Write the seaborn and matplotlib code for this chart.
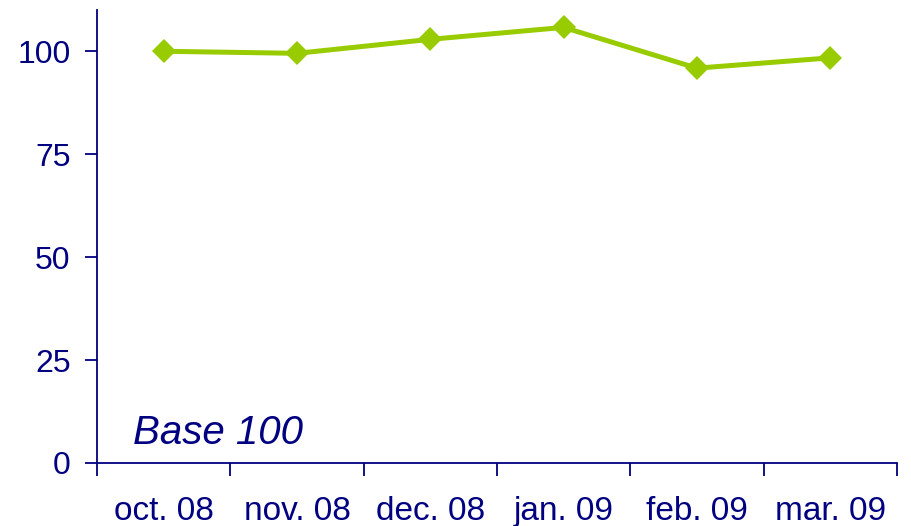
import seaborn as sns
import pandas as pd
import matplotlib.pyplot as plt
from matplotlib.ticker import FixedLocator

months = ['oct. 08', 'nov. 08', 'dec. 08', 'jan. 09', 'feb. 09', 'mar. 09']
values = [100.0, 99.5, 102.9, 105.8, 95.9, 98.4]
y_ticks = [0, 25, 50, 75, 100]

navy = '#000080'
green = '#99CC00'

sns.set_style('white')
plt.rcParams['font.family'] = ['Liberation Sans', 'DejaVu Sans']

df = pd.DataFrame({'month': months, 'value': values})

fig = plt.figure(figsize=(9.11, 5.26), dpi=100)
ax = fig.add_axes([0.1065, 0.1198, 0.878, 0.861])

sns.lineplot(data=df, x='month', y='value', ax=ax, color=green, linewidth=3.6,
             marker='D', markersize=12.5, markeredgewidth=0, sort=False)

ax.set_xlim(-0.5, len(months) - 0.5)
ax.set_ylim(0, 110)
ax.set_yticks(y_ticks)
ax.set_xticks(range(len(months)))
ax.set_xticklabels(months)
ax.xaxis.set_minor_locator(FixedLocator([i - 0.5 for i in range(len(months) + 1)]))

ax.tick_params(axis='x', which='major', length=0, pad=24, labelsize=24, labelcolor=navy)
ax.tick_params(axis='x', which='minor', length=9, width=1.3, color=navy, direction='out', bottom=True)
ax.tick_params(axis='y', length=9, width=1.3, color=navy, direction='out', left=True,
               pad=10, labelsize=23, labelcolor=navy)

for side in ['top', 'right']:
    ax.spines[side].set_visible(False)
for side in ['left', 'bottom']:
    ax.spines[side].set_color(navy)
    ax.spines[side].set_linewidth(1.3)

ax.set_xlabel('')
ax.set_ylabel('')
ax.text(-0.23, 4.6, 'Base 100', fontsize=29, style='italic', color=navy)

fig.savefig('out.png', dpi=100)
